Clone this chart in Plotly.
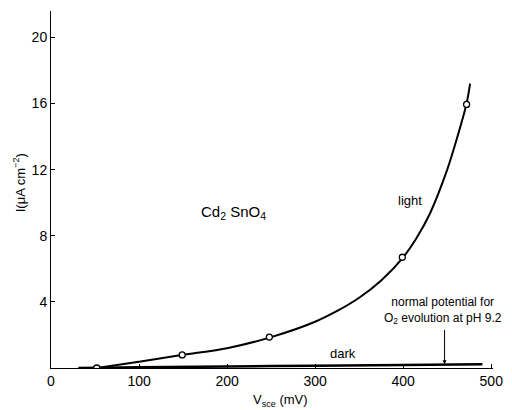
import plotly.graph_objects as go

# Light curve (smooth fit) and measured points
light_curve_x = [52, 100, 150, 200, 250, 300, 325, 350, 375, 400, 415, 430, 450, 460, 472, 476]
light_curve_y = [0.0, 0.38, 0.8, 1.2, 1.87, 2.8, 3.45, 4.25, 5.3, 6.7, 7.85, 9.3, 12.0, 13.7, 16.0, 17.2]
light_pts_x = [52, 149, 248, 399, 472]
light_pts_y = [0.0, 0.79, 1.87, 6.7, 15.95]

# Dark curve
dark_x = [31, 100, 200, 300, 400, 490]
dark_y = [0.0, 0.04, 0.09, 0.14, 0.18, 0.22]

x_ticks = [0, 100, 200, 300, 400, 500]
y_ticks = [4, 8, 12, 16, 20]

FONT = "Liberation Sans, Arial, sans-serif"

fig = go.Figure()
fig.add_trace(go.Scatter(x=light_curve_x, y=light_curve_y, mode="lines",
                         line=dict(color="black", width=2, shape="spline", smoothing=0.8),
                         hoverinfo="skip"))
fig.add_trace(go.Scatter(x=dark_x, y=dark_y, mode="lines",
                         line=dict(color="black", width=2.5, shape="spline"),
                         hoverinfo="skip"))
fig.add_trace(go.Scatter(x=light_pts_x, y=light_pts_y, mode="markers",
                         marker=dict(symbol="circle", size=6, color="white",
                                     line=dict(color="black", width=1.3))))

ann_font = dict(family=FONT, size=13, color="black")
fig.add_annotation(x=207, y=9.4, text="Cd<sub>2</sub> SnO<sub>4</sub>", showarrow=False,
                   font=dict(family=FONT, size=15, color="black"))
fig.add_annotation(x=408, y=10.15, text="light", showarrow=False, font=ann_font)
fig.add_annotation(x=332, y=0.85, text="dark", showarrow=False, font=ann_font)
fig.add_annotation(x=445, y=3.45, text="normal potential for<br>O<sub>2</sub> evolution at pH 9.2",
                   showarrow=False, font=dict(family=FONT, size=12, color="black"))
fig.add_annotation(x=447, y=0.22, ax=447, ay=2.4, axref="x", ayref="y", text="",
                   showarrow=True, arrowhead=2, arrowsize=0.8, arrowwidth=1, arrowcolor="black")

# Axis titles placed in paper coordinates relative to plot area
fig.add_annotation(xref="paper", yref="paper", x=-0.072, y=0.518, xanchor="center",
                   yanchor="middle", text="I(μA cm<sup>−2</sup>)",
                   textangle=-90, showarrow=False, font=dict(family=FONT, size=13, color="black"))
fig.add_annotation(xref="paper", yref="paper", x=0.52, y=-0.09, xanchor="center",
                   yanchor="middle", text="V<sub>sce</sub> (mV)", showarrow=False,
                   font=dict(family=FONT, size=13, color="black"))

fig.update_layout(
    width=512, height=410,
    margin=dict(l=51, r=19, t=11, b=42),
    paper_bgcolor="white", plot_bgcolor="white",
    showlegend=False,
    font=dict(family=FONT, size=14, color="black"),
    xaxis=dict(range=[0, 502], tickvals=x_ticks, ticktext=[str(v) for v in x_ticks],
               ticks="inside", ticklen=4, tickcolor="black", showgrid=False, zeroline=False,
               showline=True, linecolor="black", linewidth=1, automargin=False),
    yaxis=dict(range=[0, 21.6], tickvals=y_ticks, ticktext=[str(v) for v in y_ticks],
               ticks="inside", ticklen=4, tickcolor="black", showgrid=False, zeroline=False,
               showline=True, linecolor="black", linewidth=1, automargin=False),
)

fig.write_html("out.html", config={"displayModeBar": False},
               post_script="document.body.style.margin='0';")
